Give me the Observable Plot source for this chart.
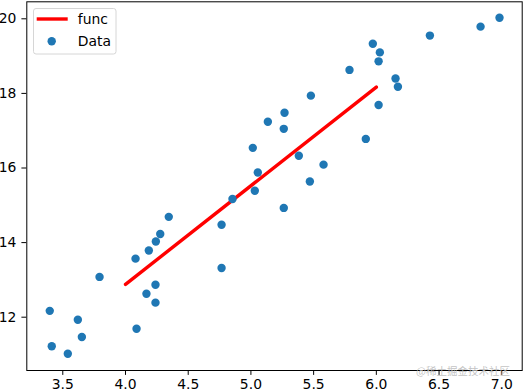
<!DOCTYPE html>
<html>
<head>
<meta charset="utf-8">
<script src="https://cdn.jsdelivr.net/npm/d3@7"></script>
<script src="https://cdn.jsdelivr.net/npm/@observablehq/plot@0.6"></script>
<style>
  html, body { margin: 0; padding: 0; background: #fff; }
  #chart { position: relative; width: 524px; height: 391px; }
</style>
</head>
<body>
<div id="chart"></div>
<script>
// Scatter data ("Data")
const dataX = [3.396, 3.412, 3.54, 3.62, 3.652, 3.793, 4.088, 4.167, 4.239, 4.239,
               4.080, 4.186, 4.242, 4.277, 4.345, 5.786, 5.478, 5.268, 5.135, 5.262,
               5.015, 5.382, 5.579, 5.055, 5.470, 5.031, 4.853, 5.262, 4.766, 4.766,
               5.972, 6.028, 6.018, 6.427, 6.831, 6.982, 6.153, 6.172, 6.018, 5.916];
const dataY = [12.17, 11.22, 11.02, 11.93, 11.47, 13.08, 11.69, 12.63, 12.87, 12.39,
               13.57, 13.79, 14.03, 14.23, 14.69, 18.63, 17.94, 17.48, 17.24, 17.05,
               16.54, 16.33, 16.09, 15.88, 15.64, 15.39, 15.17, 14.93, 14.48, 13.32,
               19.33, 19.10, 18.86, 19.55, 19.79, 20.03, 18.40, 18.18, 17.69, 16.78];
// Fitted line ("func")
const funcX = [4.0, 6.0];
const funcY = [12.88, 18.17];
// Tick labels
const xTicks = [3.5, 4.0, 4.5, 5.0, 5.5, 6.0, 6.5, 7.0];
const yTicks = [12, 14, 16, 18, 20];
const legendLabels = ["func", "Data"];

const points = dataX.map((x, i) => ({x, y: dataY[i]}));
const line = funcX.map((x, i) => ({x, y: funcY[i]}));

const font = "DejaVu Sans, sans-serif";
const plot = Plot.plot({
  width: 524,
  height: 391,
  marginLeft: 26.3,
  marginRight: 2.3,
  marginTop: 1.3,
  marginBottom: 21,
  style: {fontFamily: font, fontSize: "13.9px", color: "#000", background: "#fff", overflow: "visible"},
  x: {domain: [3.213, 7.163]},
  y: {domain: [10.571, 20.456]},
  marks: [
    Plot.line(line, {x: "x", y: "y", stroke: "#ff0000", strokeWidth: 3.4}),
    Plot.dot(points, {x: "x", y: "y", r: 4.2, fill: "#1f77b4", stroke: "none"}),
    Plot.frame({stroke: "#000", strokeWidth: 1}),
    Plot.axisX({ticks: xTicks, tickFormat: d => d.toFixed(1), tickSize: 4.9, tickPadding: 4, label: null, fontSize: 13.9, stroke: "#000"}),
    Plot.axisY({ticks: yTicks, tickFormat: d => String(d), tickSize: 4.9, tickPadding: 5.5, label: null, fontSize: 13.9, stroke: "#000"})
  ]
});
document.getElementById("chart").appendChild(plot);

// Legend (matplotlib style, upper left)
const svg = d3.select(plot);
const lg = svg.append("g").attr("font-family", font).attr("font-size", "13.9px").attr("text-anchor", "start");
lg.append("rect").attr("x", 33.5).attr("y", 8.5).attr("width", 82.5).attr("height", 45.5)
  .attr("rx", 2.5).attr("fill", "#fff").attr("fill-opacity", 0.8).attr("stroke", "#d6d6d6");
lg.append("line").attr("x1", 36.7).attr("x2", 67.7).attr("y1", 19).attr("y2", 19)
  .attr("stroke", "#ff0000").attr("stroke-width", 3.4);
lg.append("text").attr("x", 77.8).attr("y", 24.3).text(legendLabels[0]);
lg.append("circle").attr("cx", 51.7).attr("cy", 41.3).attr("r", 4.2).attr("fill", "#1f77b4");
lg.append("text").attr("x", 77.8).attr("y", 45.6).text(legendLabels[1]);

// Watermark
svg.append("text").attr("x", 510).attr("y", 374.5).attr("text-anchor", "end")
  .attr("font-family", "Noto Sans CJK SC, sans-serif").attr("font-size", "10.5px")
  .attr("fill", "#bdbdbd").attr("fill-opacity", 0.9).text("@稀土掘金技术社区");
</script>
</body>
</html>
